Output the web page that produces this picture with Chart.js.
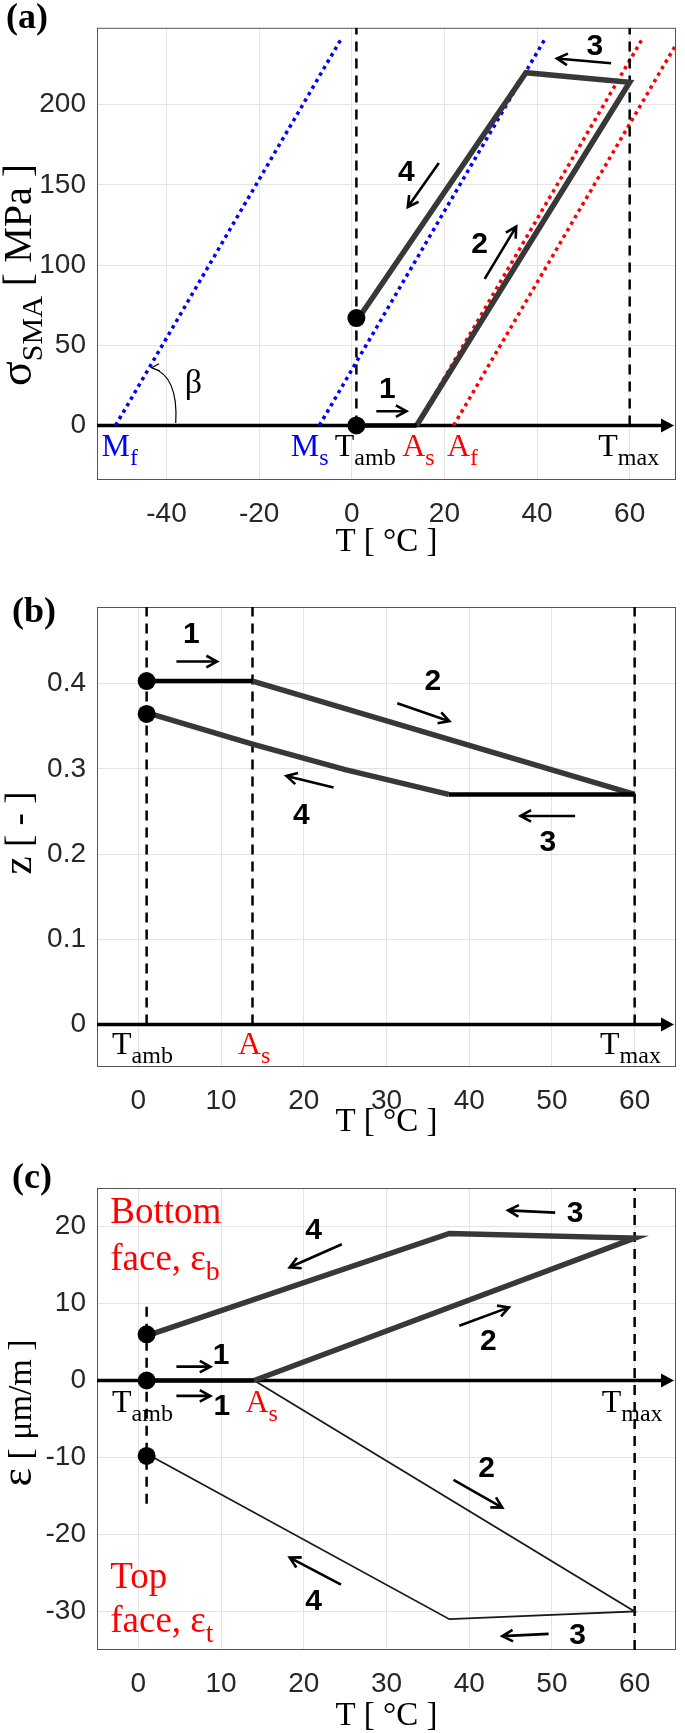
<!DOCTYPE html>
<html>
<head>
<meta charset="utf-8">
<script src="https://cdn.jsdelivr.net/npm/chart.js@4.4.0/dist/chart.umd.min.js"></script>
<style>
  html, body { margin: 0; padding: 0; background: #fff; }
  body { width: 685px; height: 1733px; position: relative; overflow: hidden; }
  canvas { position: absolute; left: 0; }
</style>
</head>
<body>
<canvas id="chartA" width="685" height="570" style="top:0px"></canvas>
<canvas id="chartB" width="685" height="570" style="top:575px"></canvas>
<canvas id="chartC" width="685" height="583" style="top:1150px"></canvas>
<script>
// ---------- data ----------
// (a) stress vs temperature
const tempTicksA = [-40, -20, 0, 20, 40, 60];
const tempLabelsA = ['-40', '-20', '0', '20', '40', '60'];
const stressTicks = [0, 50, 100, 150, 200];
const stressLabels = ['0', '50', '100', '150', '200'];
const mfLineT = [-51, -2.1];
const msLineT = [-7, 41.9];
const asLineT = [14, 62.9];
const afLineT = [22, 70.9];
const transLineS = [0, 242];
const sigStep1T = [1, 14];
const sigStep1 = [0, 0];
const sigLoopT = [14, 60, 37.6, 1.5];
const sigLoop = [0, 214, 220, 67];
const sigStartT = [1, 1];
const sigStart = [0, 67];

// (b) z vs temperature
const tempTicks = [0, 10, 20, 30, 40, 50, 60];
const tempLabels = ['0', '10', '20', '30', '40', '50', '60'];
const zTicks = [0, 0.1, 0.2, 0.3, 0.4];
const zLabels = ['0', '0.1', '0.2', '0.3', '0.4'];
const zStep1T = [1, 13.8];
const zStep1 = [0.403, 0.403];
const zHeatT = [13.8, 60];
const zHeat = [0.403, 0.27];
const zStep3T = [60, 37.5];
const zStep3 = [0.27, 0.27];
const zCoolT = [37.5, 25, 13.8, 1.5];
const zCool = [0.27, 0.299, 0.329, 0.3645];
const zStartT = [1, 1];
const zStart = [0.403, 0.3645];

// (c) strain vs temperature
const epsTicks = [-30, -20, -10, 0, 10, 20];
const epsLabels = ['-30', '-20', '-10', '0', '10', '20'];
const epsStep1T = [1, 14];
const epsStep1 = [0, 0];
const botLoopT = [14, 60, 37.6, 1.5];
const botLoop = [0, 18.5, 19.1, 6];
const topLoopT = [14, 60, 37.6, 1.5];
const topLoop = [0, -30, -31, -9.8];
const epsStartT = [1, 1, 1];
const epsStart = [6, 0, -9.8];

const tAmb = 1, tAs = 13.8, tMax = 60;

// ---------- helpers ----------
const pts = (xs, ys) => xs.map((x, i) => ({ x: x, y: ys[i] }));
const SERIF = '"Liberation Serif", "Times New Roman", serif';
const SANS = '"Liberation Sans", Arial, sans-serif';
const NUMFONT = 'bold 30px "Liberation Sans Narrow", "Liberation Sans", Arial, sans-serif';

function lineSet(xs, ys, color, width, dash) {
    return {
        data: pts(xs, ys), showLine: true, borderColor: color, borderWidth: width,
        borderDash: dash || [], pointRadius: 0, fill: false, tension: 0,
        borderCapStyle: 'butt', borderJoinStyle: 'miter'
    };
}
function dotSet(xs, ys) {
    return { data: pts(xs, ys), showLine: false, pointRadius: 9, backgroundColor: '#000', borderColor: '#000', borderWidth: 0 };
}

// segs: [text, isSub, scale]
function richText(ctx, segs, x, y, align, size, color) {
    const fontOf = s => Math.round((s[1] ? size * 0.75 : size) * (s[2] || 1)) + 'px ' + SERIF;
    let w = 0;
    segs.forEach(s => { ctx.font = fontOf(s); w += ctx.measureText(s[0]).width; });
    let cx = align === 'center' ? x - w / 2 : (align === 'right' ? x - w : x);
    ctx.fillStyle = color;
    ctx.textAlign = 'left';
    ctx.textBaseline = 'alphabetic';
    segs.forEach(s => {
        ctx.font = fontOf(s);
        ctx.fillText(s[0], cx, y + (s[1] ? size * 0.27 : 0));
        cx += ctx.measureText(s[0]).width;
    });
}

function arrow(ctx, x1, y1, x2, y2) {
    const ang = Math.atan2(y2 - y1, x2 - x1), h = 12;
    ctx.beginPath();
    ctx.moveTo(x1, y1); ctx.lineTo(x2, y2);
    ctx.moveTo(x2 - h * Math.cos(ang - 0.5), y2 - h * Math.sin(ang - 0.5));
    ctx.lineTo(x2, y2);
    ctx.lineTo(x2 - h * Math.cos(ang + 0.5), y2 - h * Math.sin(ang + 0.5));
    ctx.stroke();
}

function decoPlugin(cfg) {
    return {
        id: 'deco' + cfg.name,
        beforeDatasetsDraw(chart) {
            const ctx = chart.ctx, a = chart.chartArea;
            ctx.save();
            ctx.strokeStyle = '#555';
            ctx.lineWidth = 1;
            ctx.strokeRect(a.left + 0.5, a.top + 0.5, a.right - a.left - 1, a.bottom - a.top - 1);
            // horizontal axis arrow at zero
            const y0 = chart.scales.y.getPixelForValue(0);
            ctx.strokeStyle = '#000'; ctx.fillStyle = '#000'; ctx.lineWidth = 3.5;
            ctx.beginPath(); ctx.moveTo(a.left, y0); ctx.lineTo(a.right - 10, y0); ctx.stroke();
            ctx.beginPath(); ctx.moveTo(a.right - 2, y0); ctx.lineTo(a.right - 15, y0 - 7);
            ctx.lineTo(a.right - 15, y0 + 7); ctx.closePath(); ctx.fill();
            ctx.restore();
        },
        afterDraw(chart) {
            const ctx = chart.ctx;
            const X = v => chart.scales.x.getPixelForValue(v);
            const Y = v => chart.scales.y.getPixelForValue(v);
            const y0 = Y(0);
            ctx.save();
            // temperature markers under the axis
            cfg.marks.forEach(m => richText(ctx, [[m.text, false], [m.sub, true]], X(m.t), y0 + cfg.markOffset, 'center', 32, m.color));
            // step arrows
            ctx.strokeStyle = '#000'; ctx.lineWidth = 2.6; ctx.lineJoin = 'miter'; ctx.lineCap = 'butt';
            cfg.arrows.forEach(r => arrow(ctx, X(r[0]), Y(r[1]), X(r[2]), Y(r[3])));
            // step numbers
            ctx.fillStyle = '#000'; ctx.font = NUMFONT; ctx.textAlign = 'center'; ctx.textBaseline = 'middle';
            cfg.steps.forEach(s => ctx.fillText(s[0], X(s[1]), Y(s[2])));
            // free texts
            (cfg.texts || []).forEach(t => richText(ctx, t.segs, X(t.t), Y(t.v), 'left', t.size, t.color));
            if (cfg.extra) cfg.extra(ctx, X, Y);
            // y title
            ctx.translate(31, cfg.yTitleY);
            ctx.rotate(-Math.PI / 2);
            richText(ctx, cfg.yTitle, 0, 0, 'center', cfg.yTitleSize, '#000');
            ctx.restore();
            // panel letter
            ctx.save();
            ctx.fillStyle = '#000';
            ctx.font = 'bold 36px ' + SERIF;
            ctx.textAlign = 'left'; ctx.textBaseline = 'alphabetic';
            ctx.fillText(cfg.letter, cfg.letterX, cfg.letterY);
            ctx.restore();
        }
    };
}

function makeChart(id, cfg) {
    return new Chart(document.getElementById(id), {
        type: 'scatter',
        data: { datasets: cfg.datasets },
        options: {
            responsive: false,
            animation: false,
            events: [],
            layout: { padding: { left: 0, right: 2, top: cfg.padTop, bottom: 0 } },
            plugins: { legend: { display: false }, tooltip: { enabled: false } },
            scales: {
                x: {
                    type: 'linear', min: cfg.xMin, max: cfg.xMax,
                    afterBuildTicks: s => { s.ticks = cfg.xTicks.map(v => ({ value: v })); },
                    afterFit: s => { s.height = cfg.xHeight; },
                    grid: { color: '#e4e4e4', lineWidth: 1, drawTicks: false },
                    border: { display: false },
                    ticks: {
                        color: '#262626', font: { family: SANS, size: 28 }, padding: 17,
                        maxRotation: 0, autoSkip: false,
                        callback: (v, i) => cfg.xLabels[i]
                    },
                    title: {
                        display: true, text: 'T [ °C ]', color: '#000',
                        font: { family: SERIF, size: 33, lineHeight: 1 },
                        padding: { top: 0, bottom: cfg.xTitlePad }
                    }
                },
                y: {
                    type: 'linear', min: cfg.yMin, max: cfg.yMax,
                    afterBuildTicks: s => { s.ticks = cfg.yTicks.map(v => ({ value: v })); },
                    afterFit: s => { s.width = 97; },
                    grid: { color: '#e4e4e4', lineWidth: 1, drawTicks: false },
                    border: { display: false },
                    ticks: {
                        color: '#262626', font: { family: SANS, size: 28 }, padding: 11,
                        autoSkip: false,
                        callback: (v, i) => cfg.yLabels[i]
                    }
                }
            }
        },
        plugins: [decoPlugin(cfg)]
    });
}

const BLUE = '#0000ff', RED = '#ff0000', PATH = '#383838';
const DOT = [3.5, 4], DASH = [10, 7];

// ---------- (a) ----------
makeChart('chartA', {
    name: 'A', padTop: 18, xHeight: 90, xTitlePad: 11,
    xMin: -55, xMax: 70, yMin: -34, yMax: 248,
    xTicks: tempTicksA, xLabels: tempLabelsA, yTicks: stressTicks, yLabels: stressLabels,
    datasets: [
        dotSet(sigStartT, sigStart),
        lineSet(sigStep1T, sigStep1, '#000', 4.5),
        lineSet(sigLoopT, sigLoop, PATH, 5.5),
        lineSet([tAmb, tAmb], [0, 248], '#000', 2.5, DASH),
        lineSet([tMax, tMax], [0, 248], '#000', 2.5, DASH),
        lineSet(mfLineT, transLineS, BLUE, 3.5, DOT),
        lineSet(msLineT, transLineS, BLUE, 3.5, DOT),
        lineSet(asLineT, transLineS, RED, 3.5, DOT),
        lineSet(afLineT, transLineS, RED, 3.5, DOT)
    ],
    markOffset: 31,
    marks: [
        { text: 'M', sub: 'f', t: -50.1, color: BLUE },
        { text: 'M', sub: 's', t: -9.1, color: BLUE },
        { text: 'T', sub: 'amb', t: 2.9, color: '#000' },
        { text: 'A', sub: 's', t: 14.4, color: RED },
        { text: 'A', sub: 'f', t: 23.9, color: RED },
        { text: 'T', sub: 'max', t: 59.8, color: '#000' }
    ],
    arrows: [[5.3, 8.9, 11.8, 8.9], [28.7, 91.4, 35.5, 124], [56, 225.9, 44.3, 228.9], [18.8, 163.7, 12.1, 136.2]],
    steps: [['1', 7.7, 22.6], ['2', 27.6, 112.8], ['3', 52.5, 236.5], ['4', 11.8, 157.4]],
    extra: (ctx, X, Y) => {
        // beta angle mark
        ctx.fillStyle = '#000';
        ctx.font = '34px ' + SERIF;
        ctx.textAlign = 'center'; ctx.textBaseline = 'middle';
        ctx.fillText('β', X(-34.2), Y(26));
        ctx.lineWidth = 1.2;
        ctx.beginPath();
        ctx.moveTo(X(-38), Y(1.5));
        ctx.quadraticCurveTo(X(-37.4), Y(31), X(-43.2), Y(36));
        ctx.stroke();
        ctx.beginPath();
        ctx.moveTo(X(-41.6), Y(38.5)); ctx.lineTo(X(-43.2), Y(36)); ctx.lineTo(X(-41.4), Y(34));
        ctx.stroke();
    },
    yTitle: [['σ', false, 1.15], ['SMA', true], [' [ MPa ]', false]], yTitleSize: 40, yTitleY: 275,
    letter: '(a)', letterX: 6, letterY: 28
});

// ---------- (b) ----------
makeChart('chartB', {
    name: 'B', padTop: 32, xHeight: 78, xTitlePad: 6,
    xMin: -5, xMax: 65, yMin: -0.05, yMax: 0.49,
    xTicks: tempTicks, xLabels: tempLabels, yTicks: zTicks, yLabels: zLabels,
    datasets: [
        dotSet(zStartT, zStart),
        lineSet(zStep1T, zStep1, '#000', 4.5),
        lineSet(zStep3T, zStep3, '#000', 4.5),
        lineSet(zHeatT, zHeat, PATH, 5.5),
        lineSet(zCoolT, zCool, PATH, 5.5),
        lineSet([tAmb, tAmb], [0, 0.49], '#000', 2.5, DASH),
        lineSet([tAs, tAs], [0, 0.49], '#000', 2.5, DASH),
        lineSet([tMax, tMax], [0, 0.49], '#000', 2.5, DASH)
    ],
    markOffset: 30,
    marks: [
        { text: 'T', sub: 'amb', t: 0.5, color: '#000' },
        { text: 'A', sub: 's', t: 14, color: RED },
        { text: 'T', sub: 'max', t: 59.5, color: '#000' }
    ],
    arrows: [[4.6, 0.426, 9.5, 0.426], [31.3, 0.377, 37.6, 0.356], [52.8, 0.2447, 46.2, 0.2447], [23.6, 0.278, 17.9, 0.2916]],
    steps: [['1', 6.4, 0.458], ['2', 35.6, 0.402], ['3', 49.5, 0.2135], ['4', 19.7, 0.2447]],
    yTitle: [['z', false, 1.1], [' [ - ]', false]], yTitleSize: 37, yTitleY: 258,
    letter: '(b)', letterX: 12, letterY: 47
});

// ---------- (c) ----------
makeChart('chartC', {
    name: 'C', padTop: 38, xHeight: 83, xTitlePad: 0,
    xMin: -5, xMax: 65, yMin: -35, yMax: 25,
    xTicks: tempTicks, xLabels: tempLabels, yTicks: epsTicks, yLabels: epsLabels,
    datasets: [
        dotSet(epsStartT, epsStart),
        lineSet(epsStep1T, epsStep1, '#000', 4.5),
        lineSet(botLoopT, botLoop, PATH, 5.5),
        lineSet(topLoopT, topLoop, '#1a1a1a', 1.8),
        lineSet([tAmb, tAmb], [-16, 10.5], '#000', 2.5, DASH),
        lineSet([tMax, tMax], [-35, 25], '#000', 2.5, DASH)
    ],
    markOffset: 31.5,
    marks: [
        { text: 'T', sub: 'amb', t: 0.5, color: '#000' },
        { text: 'A', sub: 's', t: 14.9, color: RED },
        { text: 'T', sub: 'max', t: 59.7, color: '#000' }
    ],
    arrows: [[24.6, 17.7, 18.3, 14.7], [50.4, 21.8, 44.7, 22.1], [38.8, 7.1, 44.8, 9.5], [4.6, 1.8, 8.7, 1.8],
             [4.6, -2.0, 8.7, -2.0], [38.1, -12.9, 44.0, -16.5], [24.5, -26.5, 18.3, -23.0], [49.6, -32.9, 44.0, -33.2]],
    steps: [['4', 21.2, 19.5], ['3', 52.8, 21.6], ['2', 42.3, 5.0], ['1', 10.0, 3.2],
            ['1', 10.1, -3.4], ['2', 42.1, -11.4], ['4', 21.2, -28.7], ['3', 53.1, -33.2]],
    texts: [
        { segs: [['Bottom', false]], t: -3.4, v: 20.5, size: 37, color: RED },
        { segs: [['face, ε', false], ['b', true]], t: -3.4, v: 14.4, size: 37, color: RED },
        { segs: [['Top', false]], t: -3.4, v: -27.0, size: 37, color: RED },
        { segs: [['face, ε', false], ['t', true]], t: -3.4, v: -32.6, size: 37, color: RED }
    ],
    yTitle: [['ε', false, 1.3], [' [ μm/m ]', false]], yTitleSize: 34, yTitleY: 263,
    letter: '(c)', letterX: 12, letterY: 38
});
</script>
</body>
</html>
